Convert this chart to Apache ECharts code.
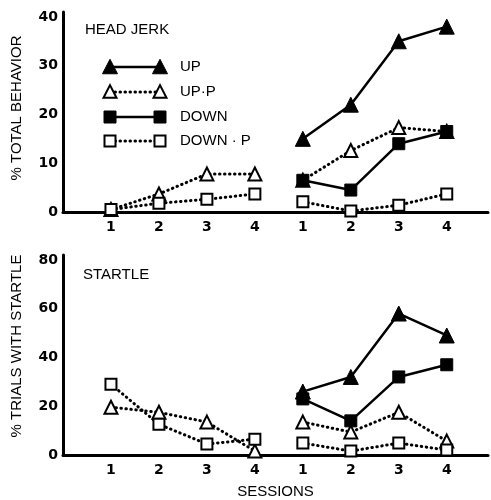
<!DOCTYPE html>
<html><head><meta charset="utf-8">
<script src="https://cdn.jsdelivr.net/npm/echarts@6/dist/echarts.min.js"></script>
<style>html,body{margin:0;padding:0;background:#fff}#c{width:491px;height:500px}</style>
</head><body><div id="c"></div>
<script>
// ---- data ----
const sessionLabels = ['1','2','3','4','1','2','3','4'];
const sessionPos = [1,2,3,4,5,6,7,8];
const seriesNames = ['UP','UP·P','DOWN','DOWN · P'];
// Head jerk (% total behavior)
const hjUp    = [null,null,null,null,15,22,35,38];
const hjUpP   = [0.5,3.7,7.8,7.8,6.5,12.6,17.3,16.5];
const hjDown  = [null,null,null,null,6.5,4.5,14,16.5];
const hjDownP = [0.5,1.8,2.6,3.7,2.1,0.2,1.4,3.7];
// Startle (% trials with startle)
const stUp    = [null,null,null,null,26,32,58,49];
const stUpP   = [19.6,17.5,13.5,1.6,13.5,9.4,17.5,5.7];
const stDown  = [null,null,null,null,23,14,32,37];
const stDownP = [29,12.6,4.5,6.5,4.9,1.6,4.9,2];
const hjTicks = [0,10,20,30,40];
const stTicks = [0,20,40,60,80];

// ---- styles ----
const FONT = 'Liberation Sans';
const DOT = [0.5,4.5];
const styleOf = {
  'UP':       {symbol:'triangle', size:15, fill:'#000', dash:'solid'},
  'UP·P':     {symbol:'triangle', size:13, fill:'#fff', dash:DOT},
  'DOWN':     {symbol:'rect',     size:12, fill:'#000', dash:'solid'},
  'DOWN · P': {symbol:'rect',     size:11, fill:'#fff', dash:DOT}
};

function groupSeries(name, vals, gridIdx) {
  const out = [];
  [[0,4],[4,8]].forEach(([a,b]) => {
    const pts = [];
    for (let i=a;i<b;i++) if (vals[i]!==null) pts.push([sessionPos[i], vals[i]]);
    if (!pts.length) return;
    const s = styleOf[name];
    out.push({
      name, type:'line', xAxisIndex:gridIdx, yAxisIndex:gridIdx, data:pts,
      symbol:s.symbol, symbolSize:s.size, showSymbol:true,
      z: s.fill === '#fff' ? 3 : 4,
      lineStyle:{color:'#000', width: s.dash==='solid'?2.5:3, type:s.dash, cap:'round'},
      itemStyle:{color:s.fill, borderColor:'#000', borderWidth: s.fill==='#fff'?2:1},
      emphasis:{disabled:true}, animation:false
    });
  });
  return out;
}

const series = [
  ...groupSeries('UP·P', hjUpP, 0), ...groupSeries('DOWN · P', hjDownP, 0),
  ...groupSeries('DOWN', hjDown, 0), ...groupSeries('UP', hjUp, 0),
  ...groupSeries('UP·P', stUpP, 1), ...groupSeries('DOWN · P', stDownP, 1),
  ...groupSeries('DOWN', stDown, 1), ...groupSeries('UP', stUp, 1)
];

function xAxis(gridIdx, withName) {
  return {
    type:'value', gridIndex:gridIdx, min:0, max:8.86, interval:1,
    axisLine:{show:true, onZero:false, lineStyle:{color:'#000', width:3}},
    axisTick:{show:false}, splitLine:{show:false},
    axisLabel:{margin:8, color:'#000', fontFamily:'DejaVu Sans', fontWeight:'bold', fontSize:14,
      formatter: v => (Number.isInteger(v) && v>=1 && v<=8) ? sessionLabels[v-1] : ''},
    name: withName ? 'SESSIONS' : '', nameLocation:'middle', nameGap:29,
    nameTextStyle:{color:'#000', fontFamily:FONT, fontSize:15}
  };
}
function yAxis(gridIdx, max, interval, ticks, name, pad) {
  return {
    type:'value', gridIndex:gridIdx, min:0, max, interval,
    axisLine:{show:true, lineStyle:{color:'#000', width:3}},
    axisTick:{show:false}, splitLine:{show:false},
    axisLabel:{margin:5, color:'#000', fontFamily:'DejaVu Sans', fontWeight:'bold', fontSize:14,
      formatter: v => ticks.includes(v) ? String(v) : ''},
    name, nameLocation:'middle', nameGap:39,
    nameTextStyle:{color:'#000', fontFamily:FONT, fontSize:15, padding:pad}
  };
}

// legend drawn as graphic (line with markers at both ends)
const legendRows = [67, 92, 117, 141];
const legendGraphic = [];
seriesNames.forEach((n, i) => {
  const s = styleOf[n], y = legendRows[i], x1 = 110, x2 = 160;
  legendGraphic.push({type:'line', shape:{x1, y1:y, x2, y2:y},
    style:{stroke:'#000', lineWidth: s.dash==='solid'?2.5:3, lineDash: s.dash==='solid'?null:DOT, lineCap:'round'}});
  [x1, x2].forEach(cx => {
    if (s.symbol === 'triangle') {
      const h = s.size*0.9, w = s.size;
      legendGraphic.push({type:'polygon', shape:{points:[[cx, y-h/2-1],[cx-w/2, y+h/2],[cx+w/2, y+h/2]]},
        style:{fill:s.fill, stroke:'#000', lineWidth: s.fill==='#fff'?2:1}, z:10});
    } else {
      legendGraphic.push({type:'rect', shape:{x:cx-s.size/2, y:y-s.size/2, width:s.size, height:s.size},
        style:{fill:s.fill, stroke:'#000', lineWidth: s.fill==='#fff'?2:1}, z:10});
    }
  });
  legendGraphic.push({type:'text', x:180, y, style:{text:n, fill:'#000', font:'15px "Liberation Sans"', textVerticalAlign:'middle'}});
});

const chart = echarts.init(document.getElementById('c'), null, {renderer:'canvas'});
chart.setOption({
  animation:false,
  backgroundColor:'#fff',
  title:[
    {text:'HEAD JERK', left:80, top:17, textStyle:{fontFamily:FONT, fontSize:15, fontWeight:'normal', color:'#000'}},
    {text:'STARTLE', left:78, top:262, textStyle:{fontFamily:FONT, fontSize:15, fontWeight:'normal', color:'#000'}}
  ],
  grid:[
    {left:63, top:12, width:428, height:200},
    {left:63, top:255, width:428, height:202}
  ],
  xAxis:[xAxis(0,false), xAxis(1,true)],
  yAxis:[
    yAxis(0, 41, 10, hjTicks, '% TOTAL BEHAVIOR', [0,0,0,8]),
    yAxis(1, 82, 20, stTicks, '% TRIALS WITH STARTLE', [0,0,0,18])
  ],
  graphic: legendGraphic,
  series
});
</script></body></html>
